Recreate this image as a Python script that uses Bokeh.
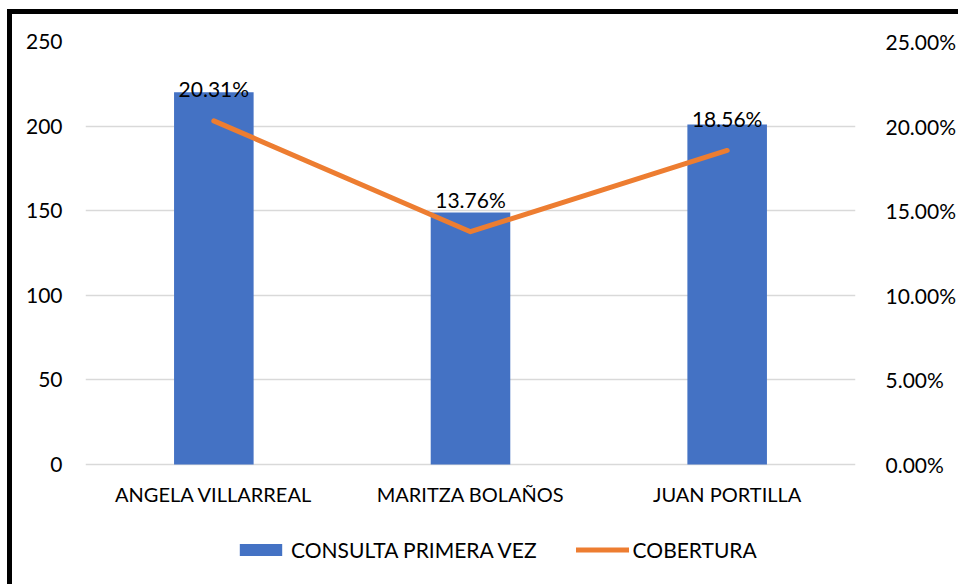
from bokeh.plotting import figure
from bokeh.models import (Range1d, FactorRange, LinearAxis, FixedTicker,
                          NumeralTickFormatter, Legend, LegendItem, ColumnDataSource)
from bokeh.core.properties import value
from bokeh.embed import file_html
from bokeh.resources import INLINE

categories = ["ANGELA VILLARREAL", "MARITZA BOLAÑOS", "JUAN PORTILLA"]
consulta = [220, 149, 201]
cobertura = [0.2031, 0.1376, 0.1856]
cobertura_labels = ["20.31%", "13.76%", "18.56%"]
left_ticks = [0, 50, 100, 150, 200, 250]
right_ticks = [0.0, 0.05, 0.10, 0.15, 0.20, 0.25]

FONT = "Lato"
BLUE = "#4472C4"
ORANGE = "#ED7D31"
GRID = "#D9D9D9"

# layout (pixels): value area 423 px tall, frame extended below it to hold labels + legend
VALUE_PX = 423
FRAME_PX = 543
ymax_l = left_ticks[-1]
ymax_r = right_ticks[-1]
ymin_l = ymax_l - ymax_l * FRAME_PX / VALUE_PX
ymin_r = ymax_r - ymax_r * FRAME_PX / VALUE_PX

src = ColumnDataSource(dict(cat=categories, n=consulta, pct=cobertura, lab=cobertura_labels))

p = figure(x_range=FactorRange(*categories, range_padding=0), y_range=Range1d(ymin_l, ymax_l),
           frame_width=770, frame_height=FRAME_PX, output_backend="svg", toolbar_location=None,
           min_border_left=73, min_border_right=91, min_border_top=27, min_border_bottom=0,
           styles={"margin-left": "7px", "margin-top": "9px",
                   "border-left": "5px solid black", "border-top": "5px solid black"})
p.outline_line_color = None
p.background_fill_color = "white"
p.border_fill_color = "white"

p.extra_y_ranges = {"pct": Range1d(ymin_r, ymax_r)}

bars = p.vbar(x="cat", top="n", width=0.31, source=src, fill_color=BLUE, line_color=None)
line = p.line(x="cat", y="pct", source=src, y_range_name="pct", line_color=ORANGE,
              line_width=5, line_cap="round", line_join="round")
p.text(x="cat", y="pct", text="lab", source=src, y_range_name="pct",
       text_font=value(FONT), text_font_size="21px", text_color="black",
       text_align="center", text_baseline="middle", y_offset=-32)

# left axis
p.yaxis.ticker = FixedTicker(ticks=left_ticks)
p.yaxis.axis_line_color = None
p.yaxis.major_tick_line_color = None
p.yaxis.minor_tick_line_color = None
p.yaxis.major_label_text_font = FONT
p.yaxis.major_label_text_font_size = "21px"
p.yaxis.major_label_text_color = "black"
p.yaxis.major_label_standoff = 17

# right axis
ra = LinearAxis(y_range_name="pct", ticker=FixedTicker(ticks=right_ticks),
                formatter=NumeralTickFormatter(format="0.00%"))
ra.axis_line_color = None
ra.major_tick_line_color = None
ra.minor_tick_line_color = None
ra.major_label_text_font = FONT
ra.major_label_text_font_size = "21px"
ra.major_label_text_color = "black"
ra.major_label_standoff = 24
p.add_layout(ra, "right")

# x axis, drawn at the zero line
p.xaxis.fixed_location = 0
p.xaxis.axis_line_color = None
p.xaxis.major_tick_line_color = None
p.xaxis.minor_tick_line_color = None
p.xaxis.major_label_text_font = FONT
p.xaxis.major_label_text_font_size = "20px"
p.xaxis.major_label_text_color = "black"
p.xaxis.major_label_standoff = 11

p.xgrid.grid_line_color = None
p.ygrid.grid_line_color = GRID
p.ygrid.grid_line_width = 1.5

legend = Legend(items=[LegendItem(label="CONSULTA PRIMERA VEZ", renderers=[bars]),
                       LegendItem(label="COBERTURA", renderers=[line])],
                orientation="horizontal", location=(149, 22),
                label_text_font=FONT, label_text_font_size="21px", label_text_color="black",
                glyph_width=53, glyph_height=15, spacing=39, padding=0, margin=0,
                border_line_color=None, background_fill_alpha=0, label_standoff=4)
p.add_layout(legend)

open("out.html", "w").write(file_html(p, INLINE))
